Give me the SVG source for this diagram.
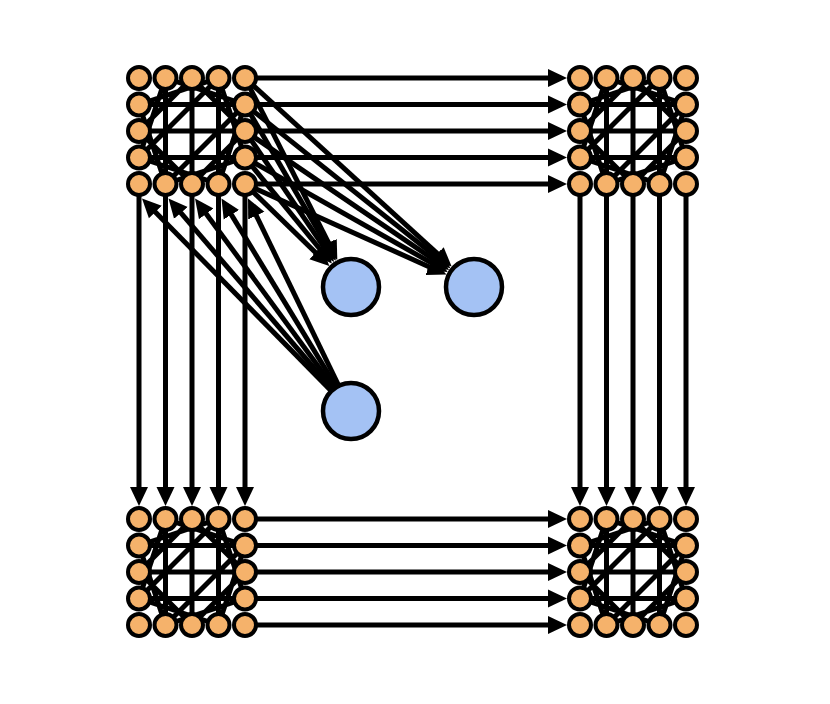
<svg xmlns="http://www.w3.org/2000/svg" width="830" height="704" viewBox="0 0 830 704">
<defs>
<style>
.e{stroke:#000;stroke-width:5;fill:none}
.a{stroke:#000;stroke-width:5;fill:none;marker-end:url(#ah)}
.o{fill:#f5b26b;stroke:#000;stroke-width:4}
.b{fill:#a4c2f4;stroke:#000;stroke-width:4.5}
</style>
<marker id="ah" markerUnits="userSpaceOnUse" markerWidth="21" markerHeight="20" refX="9.5" refY="10" orient="auto">
<path d="M0,1 L19,10 L0,19 z" fill="#000"/>
</marker>
<g id="cl">
<path class="e" d="M26.5,0V106M53,0V106M79.5,0V106M0,26.5H106M0,53H106M0,79.5H106M0,26.5L79.5,0M0,26.5L26.5,106M0,79.5L79.5,106M79.5,0L106,79.5M26.5,0L106,26.5M106,26.5L79.5,106M106,79.5L26.5,106M0,79.5L26.5,0M0,79.5L79.5,0M106,26.5L26.5,106M0,53L53,0L106,53L53,106Z"/>
<circle class="o" cx="0" cy="0" r="11"/><circle class="o" cx="26.5" cy="0" r="11"/><circle class="o" cx="53" cy="0" r="11"/><circle class="o" cx="79.5" cy="0" r="11"/><circle class="o" cx="106" cy="0" r="11"/>
<circle class="o" cx="0" cy="26.5" r="11"/><circle class="o" cx="106" cy="26.5" r="11"/>
<circle class="o" cx="0" cy="53" r="11"/><circle class="o" cx="106" cy="53" r="11"/>
<circle class="o" cx="0" cy="79.5" r="11"/><circle class="o" cx="106" cy="79.5" r="11"/>
<circle class="o" cx="0" cy="106" r="11"/><circle class="o" cx="26.5" cy="106" r="11"/><circle class="o" cx="53" cy="106" r="11"/><circle class="o" cx="79.5" cy="106" r="11"/><circle class="o" cx="106" cy="106" r="11"/>
</g>
</defs>
<rect width="830" height="704" fill="#fff"/>
<g id="connectors">
<path class="a" d="M245,78H557.5"/>
<path class="a" d="M245,104.5H557.5"/>
<path class="a" d="M245,131H557.5"/>
<path class="a" d="M245,157.5H557.5"/>
<path class="a" d="M245,184H557.5"/>
<path class="a" d="M245,519H557.5"/>
<path class="a" d="M245,545.5H557.5"/>
<path class="a" d="M245,572H557.5"/>
<path class="a" d="M245,598.5H557.5"/>
<path class="a" d="M245,625H557.5"/>
<path class="a" d="M139,184V496.5"/>
<path class="a" d="M165.5,184V496.5"/>
<path class="a" d="M192,184V496.5"/>
<path class="a" d="M218.5,184V496.5"/>
<path class="a" d="M245,184V496.5"/>
<path class="a" d="M580,184V496.5"/>
<path class="a" d="M606.5,184V496.5"/>
<path class="a" d="M633,184V496.5"/>
<path class="a" d="M659.5,184V496.5"/>
<path class="a" d="M686,184V496.5"/>
<path class="a" d="M245,78L333.01,251.54"/>
<path class="a" d="M245,104.5L331.03,252.63"/>
<path class="a" d="M245,131L328.66,254.13"/>
<path class="a" d="M245,157.5L325.82,256.24"/>
<path class="a" d="M245,184L322.49,259.30"/>
<path class="a" d="M245,78L444.64,260.20"/>
<path class="a" d="M245,104.5L442.91,262.22"/>
<path class="a" d="M245,131L441.15,264.62"/>
<path class="a" d="M245,157.5L439.40,267.43"/>
<path class="a" d="M245,184L437.75,270.70"/>
<path class="a" d="M351,411L148.66,205.28"/>
<path class="a" d="M351,411L174.69,205.71"/>
<path class="a" d="M351,411L200.63,206.15"/>
<path class="a" d="M351,411L226.44,206.62"/>
<path class="a" d="M351,411L252.15,207.05"/>
</g>
<g id="cluster-top-left"><use href="#cl" x="139" y="78"/></g>
<g id="cluster-top-right"><use href="#cl" x="580" y="78"/></g>
<g id="cluster-bottom-left"><use href="#cl" x="139" y="519"/></g>
<g id="cluster-bottom-right"><use href="#cl" x="580" y="519"/></g>
<g id="node-a"><circle class="b" cx="351" cy="287" r="28"/></g>
<g id="node-b"><circle class="b" cx="474" cy="287" r="28"/></g>
<g id="node-c"><circle class="b" cx="351" cy="411" r="28"/></g>
</svg>
